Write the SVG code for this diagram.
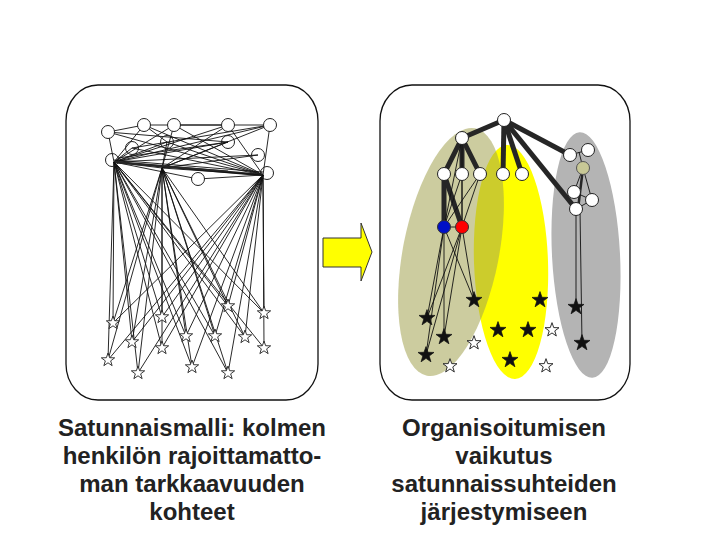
<svg xmlns="http://www.w3.org/2000/svg" xmlns:xlink="http://www.w3.org/1999/xlink" width="720" height="540" viewBox="0 0 720 540">
<style>
.panel{fill:#fff;stroke:#111;stroke-width:1.3}
.e{stroke:#111;stroke-width:0.9;fill:none}
.t{stroke:#262626;stroke-width:5;stroke-linecap:butt;fill:none}
.m{stroke:#262626;stroke-width:2.5;fill:none}
.n{fill:#fff;stroke:#222;stroke-width:1}
.ws{fill:#fff;stroke:#222;stroke-width:0.9}
.bs{fill:#111;stroke:#111;stroke-width:0.6}
.lbl{font-family:"Liberation Sans",Arial,sans-serif;font-weight:bold;font-size:24px;fill:#222;text-anchor:middle}
</style>
<defs>
<path id="star" d="M0,-7 L1.65,-2.27 L6.66,-2.16 L2.66,0.87 L4.11,5.66 L0,2.8 L-4.11,5.66 L-2.66,0.87 L-6.66,-2.16 L-1.65,-2.27 Z"/>
</defs>
<rect width="720" height="540" fill="#fff"/>

<g id="left-panel"><rect class="panel" x="66" y="85" width="252" height="315" rx="32" ry="36"/></g>
<g id="right-panel"><rect class="panel" x="380" y="85" width="250" height="315" rx="32" ry="36"/></g>

<g id="arrow"><polygon points="323,238 361,238 361,223 372,252 361,281 361,267 323,267" fill="#ffff00" stroke="#333" stroke-width="1"/></g>

<g id="groups">
<ellipse id="yellow-group" cx="511" cy="262" rx="37" ry="117" transform="rotate(-2 511 262)" fill="#ffff00"/>
<ellipse id="gray-group" cx="586" cy="255" rx="34" ry="123" transform="rotate(-3 586 255)" fill="#b4b4b4"/>
<ellipse id="olive-group" cx="451" cy="252" rx="48" ry="126" transform="rotate(11 451 252)" fill="#a3a350" fill-opacity="0.55"/>
</g>

<g id="connectors">
<line class="e" x1="108" y1="132" x2="114" y2="162"/>
<line class="e" x1="108" y1="132" x2="228" y2="142"/>
<line class="e" x1="108" y1="132" x2="263" y2="175"/>
<line class="e" x1="108" y1="132" x2="144" y2="125"/>
<line class="e" x1="144" y1="125" x2="114" y2="162"/>
<line class="e" x1="144" y1="125" x2="263" y2="175"/>
<line class="e" x1="144" y1="125" x2="167" y2="142"/>
<line class="e" x1="144" y1="125" x2="228" y2="125"/>
<line class="e" x1="174" y1="125" x2="114" y2="162"/>
<line class="e" x1="174" y1="125" x2="162" y2="168"/>
<line class="e" x1="174" y1="125" x2="263" y2="175"/>
<line class="e" x1="174" y1="125" x2="270" y2="125"/>
<line class="e" x1="228" y1="125" x2="114" y2="162"/>
<line class="e" x1="228" y1="125" x2="162" y2="168"/>
<line class="e" x1="228" y1="125" x2="263" y2="175"/>
<line class="e" x1="270" y1="125" x2="114" y2="162"/>
<line class="e" x1="270" y1="125" x2="162" y2="168"/>
<line class="e" x1="270" y1="125" x2="263" y2="175"/>
<line class="e" x1="270" y1="125" x2="132" y2="148"/>
<line class="e" x1="132" y1="148" x2="114" y2="162"/>
<line class="e" x1="132" y1="148" x2="263" y2="175"/>
<line class="e" x1="167" y1="142" x2="114" y2="162"/>
<line class="e" x1="167" y1="142" x2="263" y2="175"/>
<line class="e" x1="167" y1="142" x2="162" y2="168"/>
<line class="e" x1="228" y1="142" x2="114" y2="162"/>
<line class="e" x1="228" y1="142" x2="162" y2="168"/>
<line class="e" x1="258" y1="155" x2="114" y2="162"/>
<line class="e" x1="258" y1="155" x2="162" y2="168"/>
<line class="e" x1="198" y1="179" x2="114" y2="162"/>
<line class="e" x1="198" y1="179" x2="263" y2="175"/>
<line class="e" x1="228" y1="171" x2="114" y2="162"/>
<line class="e" x1="114" y1="162" x2="162" y2="168"/>
<line class="m" x1="114" y1="162" x2="263" y2="175"/>
<line class="e" x1="114" y1="160" x2="263" y2="172"/>
<line class="e" x1="162" y1="168" x2="263" y2="175"/>
<line class="e" x1="118" y1="158" x2="228" y2="142"/>
<line class="e" x1="114" y1="162" x2="113" y2="323"/>
<line class="e" x1="114" y1="162" x2="162" y2="317"/>
<line class="e" x1="114" y1="162" x2="228" y2="306"/>
<line class="e" x1="114" y1="162" x2="264" y2="313"/>
<line class="e" x1="114" y1="162" x2="132" y2="342"/>
<line class="e" x1="114" y1="162" x2="186" y2="336"/>
<line class="e" x1="114" y1="162" x2="215" y2="336"/>
<line class="e" x1="114" y1="162" x2="245" y2="337"/>
<line class="e" x1="114" y1="162" x2="162" y2="348"/>
<line class="e" x1="114" y1="162" x2="264" y2="348"/>
<line class="e" x1="114" y1="162" x2="108" y2="360"/>
<line class="e" x1="114" y1="162" x2="138" y2="373"/>
<line class="e" x1="114" y1="162" x2="192" y2="367"/>
<line class="e" x1="114" y1="162" x2="228" y2="373"/>
<line class="e" x1="162" y1="168" x2="113" y2="323"/>
<line class="e" x1="162" y1="168" x2="162" y2="317"/>
<line class="e" x1="162" y1="168" x2="228" y2="306"/>
<line class="e" x1="162" y1="168" x2="264" y2="313"/>
<line class="e" x1="162" y1="168" x2="132" y2="342"/>
<line class="e" x1="162" y1="168" x2="186" y2="336"/>
<line class="e" x1="162" y1="168" x2="215" y2="336"/>
<line class="e" x1="162" y1="168" x2="245" y2="337"/>
<line class="e" x1="162" y1="168" x2="162" y2="348"/>
<line class="e" x1="162" y1="168" x2="108" y2="360"/>
<line class="e" x1="162" y1="168" x2="138" y2="373"/>
<line class="e" x1="162" y1="168" x2="192" y2="367"/>
<line class="e" x1="162" y1="168" x2="228" y2="373"/>
<line class="e" x1="263" y1="175" x2="113" y2="323"/>
<line class="e" x1="263" y1="175" x2="162" y2="317"/>
<line class="e" x1="263" y1="175" x2="228" y2="306"/>
<line class="e" x1="263" y1="175" x2="264" y2="313"/>
<line class="e" x1="263" y1="175" x2="132" y2="342"/>
<line class="e" x1="263" y1="175" x2="186" y2="336"/>
<line class="e" x1="263" y1="175" x2="215" y2="336"/>
<line class="e" x1="263" y1="175" x2="245" y2="337"/>
<line class="e" x1="263" y1="175" x2="162" y2="348"/>
<line class="e" x1="263" y1="175" x2="264" y2="348"/>
<line class="e" x1="263" y1="175" x2="108" y2="360"/>
<line class="e" x1="263" y1="175" x2="138" y2="373"/>
<line class="e" x1="263" y1="175" x2="192" y2="367"/>
<line class="e" x1="263" y1="175" x2="228" y2="373"/>

<line class="t" x1="504" y1="120" x2="462" y2="138"/>
<line class="t" x1="504" y1="120" x2="503" y2="174"/>
<line class="t" x1="504" y1="120" x2="522" y2="174"/>
<line class="t" x1="504" y1="120" x2="570" y2="155"/>
<line class="t" x1="504" y1="120" x2="576" y2="209"/>
<line class="t" x1="462" y1="138" x2="444" y2="174"/>
<line class="t" x1="462" y1="138" x2="462" y2="174"/>
<line class="t" x1="462" y1="138" x2="480" y2="174"/>
<line class="t" x1="444" y1="174" x2="444" y2="227"/>
<line class="t" x1="444" y1="174" x2="462" y2="227"/>
<line class="e" x1="462" y1="138" x2="444" y2="227"/>
<line class="e" x1="462" y1="138" x2="462" y2="227"/>
<line class="e" x1="462" y1="174" x2="444" y2="227"/>
<line class="e" x1="462" y1="174" x2="462" y2="227"/>
<line class="e" x1="480" y1="174" x2="444" y2="227"/>
<line class="e" x1="480" y1="174" x2="462" y2="227"/>
<line class="e" x1="444" y1="227" x2="462" y2="227"/>
<line class="e" x1="444" y1="227" x2="427" y2="318"/>
<line class="e" x1="444" y1="227" x2="426" y2="355"/>
<line class="e" x1="444" y1="227" x2="444" y2="337"/>
<line class="e" x1="444" y1="227" x2="474" y2="300"/>
<line class="e" x1="462" y1="227" x2="427" y2="318"/>
<line class="e" x1="462" y1="227" x2="426" y2="355"/>
<line class="e" x1="462" y1="227" x2="444" y2="337"/>
<line class="e" x1="462" y1="227" x2="474" y2="300"/>
<line class="e" x1="570" y1="155" x2="588" y2="150"/>
<line class="e" x1="579" y1="152" x2="583" y2="168"/>
<line class="e" x1="583" y1="168" x2="574" y2="192"/>
<line class="e" x1="583" y1="168" x2="592" y2="200"/>
<line class="m" x1="583" y1="168" x2="578" y2="209"/>
<line class="e" x1="574" y1="192" x2="592" y2="200"/>
<line class="e" x1="576" y1="209" x2="592" y2="200"/>
<line class="e" x1="576" y1="209" x2="576" y2="307"/>
<line class="e" x1="580" y1="209" x2="582" y2="343"/>
</g>

<g id="left-nodes">
<g id="l-c1"><circle class="n" cx="108" cy="132" r="6.5"/></g>
<g id="l-c2"><circle class="n" cx="144" cy="125" r="6.5"/></g>
<g id="l-c3"><circle class="n" cx="174" cy="125" r="6.5"/></g>
<g id="l-c4"><circle class="n" cx="228" cy="125" r="6.5"/></g>
<g id="l-c5"><circle class="n" cx="270" cy="125" r="6.5"/></g>
<g id="l-c6"><circle class="n" cx="132" cy="148" r="6.5" fill-opacity="0"/></g>
<g id="l-c7"><circle class="n" cx="167" cy="142" r="6.5" fill-opacity="0"/></g>
<g id="l-c8"><circle class="n" cx="228" cy="142" r="6.5" fill-opacity="0"/></g>
<g id="l-c9"><circle class="n" cx="112" cy="160" r="6.5" fill-opacity="0"/></g>
<g id="l-c10"><circle class="n" cx="258" cy="155" r="6.5" fill-opacity="0"/></g>
<g id="l-c11"><circle class="n" cx="267" cy="173" r="6.5" fill-opacity="0"/></g>
<g id="l-c12"><circle class="n" cx="198" cy="179" r="6.5"/></g>
</g>

<g id="left-stars">
<g id="l-s1"><use href="#star" class="ws" x="113" y="323"/></g>
<g id="l-s2"><use href="#star" class="ws" x="162" y="317"/></g>
<g id="l-s3"><use href="#star" class="ws" x="228" y="306"/></g>
<g id="l-s4"><use href="#star" class="ws" x="264" y="313"/></g>
<g id="l-s5"><use href="#star" class="ws" x="132" y="342"/></g>
<g id="l-s6"><use href="#star" class="ws" x="186" y="336"/></g>
<g id="l-s7"><use href="#star" class="ws" x="215" y="336"/></g>
<g id="l-s8"><use href="#star" class="ws" x="245" y="337"/></g>
<g id="l-s9"><use href="#star" class="ws" x="162" y="348"/></g>
<g id="l-s10"><use href="#star" class="ws" x="264" y="348"/></g>
<g id="l-s11"><use href="#star" class="ws" x="108" y="360"/></g>
<g id="l-s12"><use href="#star" class="ws" x="138" y="373"/></g>
<g id="l-s13"><use href="#star" class="ws" x="192" y="367"/></g>
<g id="l-s14"><use href="#star" class="ws" x="228" y="373"/></g>
</g>

<g id="right-nodes">
<g id="r-root"><circle class="n" cx="504" cy="120" r="6.5"/></g>
<g id="r-a"><circle class="n" cx="462" cy="138" r="6.5"/></g>
<g id="r-a1"><circle class="n" cx="444" cy="174" r="6.5"/></g>
<g id="r-a2"><circle class="n" cx="462" cy="174" r="6.5"/></g>
<g id="r-a3"><circle class="n" cx="480" cy="174" r="6.5"/></g>
<g id="r-b1"><circle class="n" cx="503" cy="174" r="6.5"/></g>
<g id="r-b2"><circle class="n" cx="522" cy="174" r="6.5"/></g>
<g id="r-c1"><circle class="n" cx="570" cy="155" r="6.5"/></g>
<g id="r-c2"><circle class="n" cx="588" cy="150" r="6.5"/></g>
<g id="r-c3"><circle cx="583" cy="168" r="6.5" fill="#c8c896" stroke="#555" stroke-width="1"/></g>
<g id="r-c4"><circle class="n" cx="574" cy="192" r="6.5"/></g>
<g id="r-c5"><circle class="n" cx="592" cy="200" r="6.5"/></g>
<g id="r-c6"><circle class="n" cx="576" cy="209" r="6.5"/></g>
<g id="r-blue"><circle cx="444" cy="227" r="6.5" fill="#0010c8" stroke="#333" stroke-width="1"/></g>
<g id="r-red"><circle cx="462" cy="227" r="6.5" fill="#ff0000" stroke="#333" stroke-width="1"/></g>
</g>

<g id="right-stars">
<g id="r-s1"><use href="#star" class="bs" transform="translate(474 300) scale(1.2)"/></g>
<g id="r-s2"><use href="#star" class="bs" transform="translate(427 318) scale(1.2)"/></g>
<g id="r-s3"><use href="#star" class="bs" transform="translate(444 337) scale(1.2)"/></g>
<g id="r-s4"><use href="#star" class="bs" transform="translate(426 355) scale(1.2)"/></g>
<g id="r-s5"><use href="#star" class="bs" transform="translate(540 300) scale(1.2)"/></g>
<g id="r-s6"><use href="#star" class="bs" transform="translate(498 330) scale(1.2)"/></g>
<g id="r-s7"><use href="#star" class="bs" transform="translate(528 330) scale(1.2)"/></g>
<g id="r-s8"><use href="#star" class="bs" transform="translate(510 360) scale(1.2)"/></g>
<g id="r-s9"><use href="#star" class="bs" transform="translate(576 307) scale(1.2)"/></g>
<g id="r-s10"><use href="#star" class="bs" transform="translate(582 343) scale(1.2)"/></g>
<g id="r-w1"><use href="#star" class="ws" transform="translate(474 343) scale(1.05)"/></g>
<g id="r-w2"><use href="#star" class="ws" transform="translate(552 330) scale(1.05)"/></g>
<g id="r-w3"><use href="#star" class="ws" transform="translate(450 366) scale(1.05)"/></g>
<g id="r-w4"><use href="#star" class="ws" transform="translate(546 366) scale(1.05)"/></g>
</g>

<g id="left-caption">
<text class="lbl" x="192" y="436">Satunnaismalli: kolmen</text>
<text class="lbl" x="192" y="464">henkilön rajoittamatto-</text>
<text class="lbl" x="192" y="492">man tarkkaavuuden</text>
<text class="lbl" x="192" y="520">kohteet</text>
</g>
<g id="right-caption">
<text class="lbl" x="504" y="436">Organisoitumisen</text>
<text class="lbl" x="504" y="464">vaikutus</text>
<text class="lbl" x="504" y="492">satunnaissuhteiden</text>
<text class="lbl" x="504" y="520">järjestymiseen</text>
</g>
</svg>
